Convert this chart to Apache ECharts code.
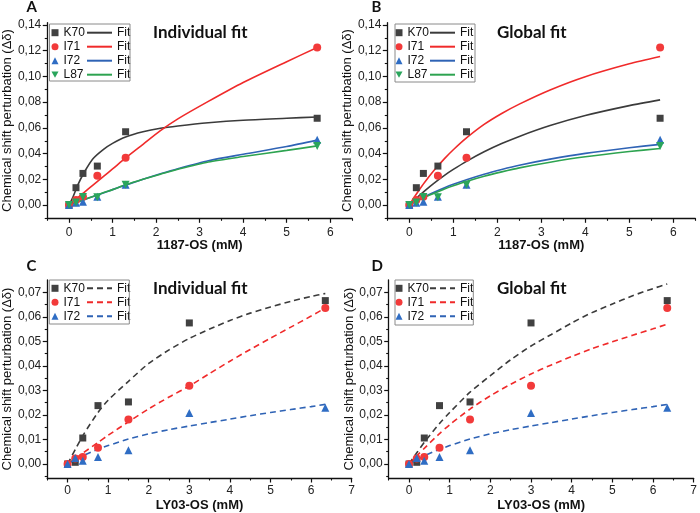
<!DOCTYPE html>
<html><head><meta charset="utf-8">
<script src="https://cdn.jsdelivr.net/npm/echarts@6/dist/echarts.min.js"></script>
<style>html,body{margin:0;padding:0;background:#fff}#c{width:700px;height:513px}</style>
</head><body><div id="c"></div><script>
// ---------- 1187-OS titration (panels A, B) ----------
const conc1187 = [0, 0.16, 0.32, 0.65, 1.3, 5.7];
const k70_1187 = [0, 0.0135, 0.0246, 0.0303, 0.0570, 0.0675];
const i71_1187 = [0, 0.0040, 0.0065, 0.0228, 0.0368, 0.1225];
const i72_1187 = [0, 0.0018, 0.0026, 0.0065, 0.0158, 0.0508];
const l87_1187 = [0, 0.0020, 0.0062, 0.0060, 0.0158, 0.0460];

const fitX1187 = [0, 0.1, 0.2, 0.35, 0.55, 0.8, 1.0, 1.3, 1.7, 2.1, 2.5, 3.2, 4.0, 5.0, 5.7];
// individual fits (A)
const fitA_k70 = [0, 0.007, 0.0155, 0.0255, 0.036, 0.0435, 0.048, 0.053, 0.057, 0.0597, 0.0615, 0.064, 0.066, 0.0675, 0.0685];
const fitA_i71 = [0, 0.0028, 0.0057, 0.0099, 0.0155, 0.0225, 0.0281, 0.0366, 0.0472, 0.0578, 0.067, 0.0806, 0.0953, 0.1115, 0.1225];
const fitA_i72 = [0, 0.0012, 0.0024, 0.0042, 0.0066, 0.0096, 0.012, 0.0155, 0.020, 0.0243, 0.0283, 0.0345, 0.0395, 0.0455, 0.0505];
const fitA_l87 = [0, 0.0012, 0.0024, 0.0043, 0.0067, 0.0097, 0.012, 0.0157, 0.020, 0.024, 0.0278, 0.0335, 0.0377, 0.0425, 0.046];
// global fits (B)
const fitB_k70 = [0, 0.0034, 0.0066, 0.0111, 0.0167, 0.0231, 0.0277, 0.034, 0.0414, 0.0478, 0.0534, 0.0618, 0.0696, 0.0773, 0.0818];
const fitB_i71 = [0, 0.0055, 0.0106, 0.0178, 0.0265, 0.0361, 0.043, 0.0522, 0.0627, 0.0712, 0.0785, 0.0895, 0.0998, 0.1098, 0.1155];
const fitB_i72 = [0, 0.002, 0.0038, 0.0065, 0.0097, 0.0134, 0.0161, 0.0197, 0.024, 0.0277, 0.031, 0.0357, 0.0402, 0.0446, 0.0472];
const fitB_l87 = [0, 0.0019, 0.0035, 0.0061, 0.009, 0.0125, 0.015, 0.0184, 0.0224, 0.0258, 0.0289, 0.0333, 0.0375, 0.0416, 0.044];

// ---------- LY03-OS titration (panels C, D) ----------
const concLY03 = [0, 0.19, 0.375, 0.75, 1.5, 3.0, 6.35];
const k70_LY03 = [0, 0.0007, 0.0106, 0.0238, 0.0253, 0.0575, 0.0666];
const i71_LY03 = [0, 0.0022, 0.0029, 0.0066, 0.0181, 0.0319, 0.0636];
const i72_LY03 = [0, 0.0025, 0.0013, 0.0029, 0.0056, 0.0208, 0.0229];

const fitXLY03 = [0, 0.2, 0.4, 0.75, 1.0, 1.5, 2.0, 2.5, 3.0, 3.5, 4.0, 4.5, 5.0, 5.5, 6.0, 6.35];
// individual fits (C)
const fitC_k70 = [0, 0.0062, 0.0122, 0.021, 0.026, 0.0337, 0.041, 0.0465, 0.0512, 0.055, 0.0585, 0.0615, 0.064, 0.0663, 0.0683, 0.0695];
const fitC_i71 = [0, 0.0024, 0.0047, 0.0088, 0.0117, 0.0172, 0.0225, 0.0273, 0.0318, 0.0369, 0.0419, 0.0467, 0.0513, 0.0558, 0.0603, 0.0636];
const fitC_i72 = [0, 0.0018, 0.0035, 0.006, 0.0075, 0.0102, 0.0123, 0.014, 0.0155, 0.0169, 0.0183, 0.0197, 0.021, 0.0222, 0.0234, 0.0243];
// global fits (D)
const fitD_k70 = [0, 0.0048, 0.0094, 0.0165, 0.021, 0.0293, 0.036, 0.0425, 0.0481, 0.0528, 0.0575, 0.0617, 0.0652, 0.0686, 0.0715, 0.0734];
const fitD_i71 = [0, 0.0035, 0.0068, 0.0124, 0.016, 0.0224, 0.0278, 0.0325, 0.0367, 0.0404, 0.0438, 0.047, 0.0498, 0.0525, 0.0551, 0.057];
const fitD_i72 = [0, 0.0018, 0.0035, 0.006, 0.0075, 0.0102, 0.0123, 0.014, 0.0155, 0.0169, 0.0183, 0.0197, 0.021, 0.0222, 0.0234, 0.0243];

// ticks
const xMajor1187 = [0, 1, 2, 3, 4, 5, 6];
const xMinor1187 = [-0.5, 0.5, 1.5, 2.5, 3.5, 4.5, 5.5, 6.5];
const yMajor1187 = [0, 0.02, 0.04, 0.06, 0.08, 0.10, 0.12, 0.14];
const yMinor1187 = [-0.01, 0.01, 0.03, 0.05, 0.07, 0.09, 0.11, 0.13];
const xMajorLY03 = [0, 1, 2, 3, 4, 5, 6, 7];
const xMinorLY03 = [-0.5, 0.5, 1.5, 2.5, 3.5, 4.5, 5.5, 6.5];
const yMajorLY03 = [0, 0.01, 0.02, 0.03, 0.04, 0.05, 0.06, 0.07];
const yMinorLY03 = [-0.005, 0.005, 0.015, 0.025, 0.035, 0.045, 0.055, 0.065];

const residues = ['K70', 'I71', 'I72', 'L87'];
const yName = 'Chemical shift perturbation (\u0394\u03b4)';

// ---------- styling ----------
const SANS = '"Liberation Sans", Arial, sans-serif';
const TITLE_FONT = 'Lato, "Open Sans", sans-serif';
const COL = {
  K70: {pt: '#414141', ln: '#3b3b3b', sym: 'rect', size: 7},
  I71: {pt: '#f23a3a', ln: '#f02a2a', sym: 'circle', size: 8},
  I72: {pt: '#2f6dc4', ln: '#2f63b5', sym: 'triangle', size: 8},
  L87: {pt: '#2aa55c', ln: '#2da350', sym: 'path://M0,0 L10,0 L5,9 Z', size: 8}
};
const zip = (a, b) => a.map((v, i) => [v, b[i]]);

const grids = [
  {left: 43, top: 22.7, width: 309, height: 195.6},
  {left: 387.3, top: 22.7, width: 308, height: 195.6},
  {left: 43, top: 280, width: 308.7, height: 203.3},
  {left: 388.7, top: 280, width: 308.7, height: 203.3}
];

const xAxes = [], yAxes = [];
function addAxes(g, cfg) {
  const line = {show: true, onZero: false, lineStyle: {color: '#111', width: 1.3}};
  xAxes.push({type: 'value', gridIndex: g, position: 'bottom', min: cfg.xmin, max: cfg.xmax,
    name: cfg.xname, nameLocation: 'middle', nameGap: cfg.xNameGap,
    nameTextStyle: {fontFamily: SANS, fontSize: 13, fontWeight: 'bold', color: '#111'},
    axisLine: line,
    axisTick: {show: true, customValues: cfg.xMajor, length: 4.5, lineStyle: {color: '#111', width: 1.2}},
    axisLabel: {customValues: cfg.xMajor, margin: cfg.xLabelMargin, fontFamily: SANS, fontSize: 12, color: '#222', formatter: v => String(v)},
    splitLine: {show: false}});
  xAxes.push({type: 'value', gridIndex: g, position: 'bottom', min: cfg.xmin, max: cfg.xmax,
    axisLine: {show: false, onZero: false},
    axisTick: {show: true, customValues: cfg.xMinor, length: 2.5, lineStyle: {color: '#111', width: 1.1}},
    axisLabel: {show: false}, splitLine: {show: false}});
  yAxes.push({type: 'value', gridIndex: g, position: 'left', min: cfg.ymin, max: cfg.ymax,
    name: yName, nameLocation: 'middle', nameGap: 26,
    nameTextStyle: {fontFamily: SANS, fontSize: 13, color: '#111'},
    axisLine: line,
    axisTick: {show: true, customValues: cfg.yMajor, length: 4.5, lineStyle: {color: '#111', width: 1.2}},
    axisLabel: {customValues: cfg.yMajor, margin: 6, fontFamily: SANS, fontSize: 12, color: '#222',
      formatter: v => v.toFixed(2).replace('.', ',')},
    splitLine: {show: false}});
  yAxes.push({type: 'value', gridIndex: g, position: 'left', min: cfg.ymin, max: cfg.ymax,
    axisLine: {show: false, onZero: false},
    axisTick: {show: true, customValues: cfg.yMinor, length: 2.5, lineStyle: {color: '#111', width: 1.1}},
    axisLabel: {show: false}, splitLine: {show: false}});
}
const cfg1187 = {xmin: -0.5, xmax: 6.5, ymin: -0.0103, ymax: 0.1418, xMajor: xMajor1187, xMinor: xMinor1187,
  yMajor: yMajor1187, yMinor: yMinor1187, xname: '1187-OS (mM)', xNameGap: 21, xLabelMargin: 8};
const cfgLY03 = {xmin: -0.5, xmax: 7, ymin: -0.0057, ymax: 0.075, xMajor: xMajorLY03, xMinor: xMinorLY03,
  yMajor: yMajorLY03, yMinor: yMinorLY03, xname: 'LY03-OS (mM)', xNameGap: 21, xLabelMargin: 7};
addAxes(0, cfg1187); addAxes(1, cfg1187); addAxes(2, cfgLY03); addAxes(3, cfgLY03);

const series = [];
function addFit(g, name, res, xs, ys, dashed) {
  series.push({type: 'line', name: name, xAxisIndex: 2 * g, yAxisIndex: 2 * g, data: zip(xs, ys),
    smooth: 0.25, symbol: 'none', showSymbol: false, silent: true,
    lineStyle: {color: COL[res].ln, width: 1.6, type: dashed ? [6, 4] : 'solid'}, z: 2});
}
function addPts(g, res, xs, ys) {
  series.push({type: 'scatter', name: res, xAxisIndex: 2 * g, yAxisIndex: 2 * g, data: zip(xs, ys),
    symbol: COL[res].sym, symbolSize: COL[res].size, itemStyle: {color: COL[res].pt, opacity: 1}, z: 3});
}
// Panel A
addFit(0, 'K70 fit', 'K70', fitX1187, fitA_k70); addFit(0, 'I71 fit', 'I71', fitX1187, fitA_i71);
addFit(0, 'I72 fit', 'I72', fitX1187, fitA_i72); addFit(0, 'L87 fit', 'L87', fitX1187, fitA_l87);
addPts(0, 'K70', conc1187, k70_1187); addPts(0, 'I71', conc1187, i71_1187);
addPts(0, 'I72', conc1187, i72_1187); addPts(0, 'L87', conc1187, l87_1187);
// Panel B
addFit(1, 'K70 fit', 'K70', fitX1187, fitB_k70); addFit(1, 'I71 fit', 'I71', fitX1187, fitB_i71);
addFit(1, 'I72 fit', 'I72', fitX1187, fitB_i72); addFit(1, 'L87 fit', 'L87', fitX1187, fitB_l87);
addPts(1, 'K70', conc1187, k70_1187); addPts(1, 'I71', conc1187, i71_1187);
addPts(1, 'I72', conc1187, i72_1187); addPts(1, 'L87', conc1187, l87_1187);
// Panel C
addFit(2, 'K70 fit LY03', 'K70', fitXLY03, fitC_k70, true); addFit(2, 'I71 fit LY03', 'I71', fitXLY03, fitC_i71, true);
addFit(2, 'I72 fit LY03', 'I72', fitXLY03, fitC_i72, true);
addPts(2, 'K70', concLY03, k70_LY03); addPts(2, 'I71', concLY03, i71_LY03); addPts(2, 'I72', concLY03, i72_LY03);
// Panel D
addFit(3, 'K70 fit LY03', 'K70', fitXLY03, fitD_k70, true); addFit(3, 'I71 fit LY03', 'I71', fitXLY03, fitD_i71, true);
addFit(3, 'I72 fit LY03', 'I72', fitXLY03, fitD_i72, true);
addPts(3, 'K70', concLY03, k70_LY03); addPts(3, 'I71', concLY03, i71_LY03); addPts(3, 'I72', concLY03, i72_LY03);

function legendPair(symLeft, lineLeft, top, names, fitNames) {
  const ts = {fontFamily: SANS, fontSize: 12, lineHeight: 14, color: '#111'};
  return [
    {left: symLeft, top: top, orient: 'vertical', data: names, itemWidth: 7, itemHeight: 7, itemGap: 0,
      padding: 0, selectedMode: false, textStyle: ts},
    {left: lineLeft, top: top, orient: 'vertical', data: fitNames, itemWidth: 25, itemHeight: 8, itemGap: 0,
      padding: 0, selectedMode: false, textStyle: ts, formatter: () => 'Fit',
      itemStyle: {opacity: 0}}
  ];
}
const legends = [].concat(
  legendPair(51.5, 86, 25.7, residues, residues.map(r => r + ' fit')),
  legendPair(395.5, 429, 25.7, residues, residues.map(r => r + ' fit')),
  legendPair(51.5, 86, 281.3, residues.slice(0, 3), residues.slice(0, 3).map(r => r + ' fit LY03')),
  legendPair(395.5, 429, 281.3, residues.slice(0, 3), residues.slice(0, 3).map(r => r + ' fit LY03'))
);

function box(x, y, w, h) {
  return {type: 'rect', shape: {x: x, y: y, width: w, height: h}, silent: true,
    style: {fill: 'none', stroke: '#8a8a8a', lineWidth: 1}, z: 10};
}
function txt(x, y, text, size) {
  return {type: 'text', x: x, y: y, silent: true, z: 10,
    style: {text: text, fontFamily: TITLE_FONT, fontSize: size, fontWeight: 'bold', fill: '#111',
      verticalAlign: 'middle', align: 'left'}};
}
const graphics = [
  box(49.5, 24, 80.5, 57), box(395, 24, 80, 58), box(49.3, 280, 80, 44), box(395, 280, 78.3, 45),
  txt(26.5, 7.5, 'A', 15), txt(371.5, 7.5, 'B', 15), txt(26.5, 266, 'C', 15), txt(371.5, 266, 'D', 15),
  txt(153, 33, 'Individual fit', 17), txt(497, 33, 'Global fit', 17),
  txt(153, 288.5, 'Individual fit', 17), txt(497, 288.5, 'Global fit', 17)
];

const chart = echarts.init(document.getElementById('c'), null, {renderer: 'canvas'});
chart.setOption({
  animation: false,
  backgroundColor: '#fff',
  grid: grids,
  xAxis: xAxes,
  yAxis: yAxes,
  legend: legends,
  series: series,
  graphic: graphics
});
</script></body></html>
